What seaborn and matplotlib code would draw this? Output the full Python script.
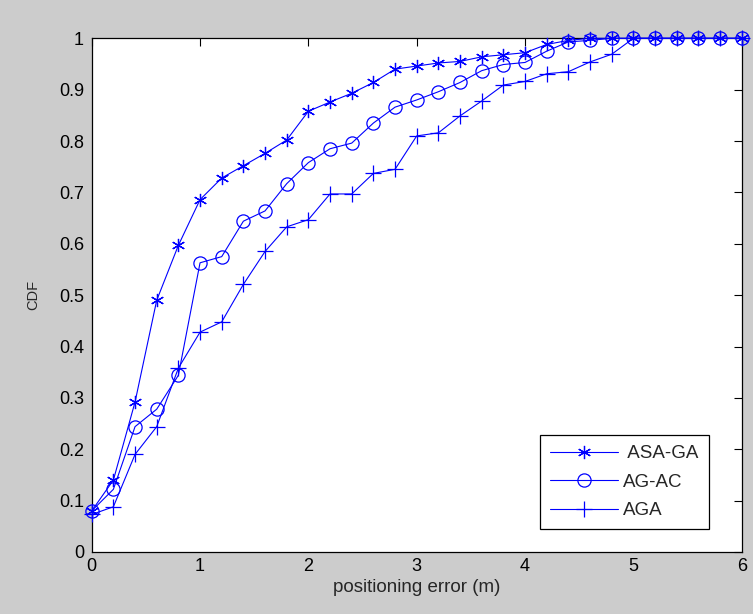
import matplotlib
matplotlib.use("Agg")
import matplotlib.pyplot as plt
import seaborn as sns
import pandas as pd

x_values = [0.0, 0.2, 0.4, 0.6, 0.8, 1.0, 1.2, 1.4, 1.6, 1.8, 2.0, 2.2, 2.4, 2.6, 2.8,
            3.0, 3.2, 3.4, 3.6, 3.8, 4.0, 4.2, 4.4, 4.6, 4.8, 5.0, 5.2, 5.4, 5.6, 5.8, 6.0]
asa_ga = [0.080, 0.140, 0.292, 0.490, 0.597, 0.686, 0.728, 0.752, 0.776, 0.802, 0.858,
          0.876, 0.893, 0.914, 0.940, 0.946, 0.952, 0.955, 0.964, 0.968, 0.972, 0.988,
          0.996, 1.0, 1.0, 1.0, 1.0, 1.0, 1.0, 1.0, 1.0]
ag_ac = [0.080, 0.122, 0.244, 0.278, 0.344, 0.563, 0.575, 0.644, 0.664, 0.717, 0.758,
         0.785, 0.796, 0.835, 0.866, 0.880, 0.896, 0.914, 0.937, 0.949, 0.953, 0.975,
         0.993, 0.996, 1.0, 1.0, 1.0, 1.0, 1.0, 1.0, 1.0]
aga = [0.073, 0.088, 0.190, 0.244, 0.358, 0.428, 0.448, 0.521, 0.585, 0.633, 0.647,
       0.697, 0.697, 0.737, 0.745, 0.810, 0.816, 0.849, 0.878, 0.909, 0.916, 0.931,
       0.935, 0.954, 0.969, 1.0, 1.0, 1.0, 1.0, 1.0, 1.0]
series_names = [" ASA-GA", "AG-AC", "AGA"]
x_ticks = [0, 1, 2, 3, 4, 5, 6]
y_ticks = [0, 0.1, 0.2, 0.3, 0.4, 0.5, 0.6, 0.7, 0.8, 0.9, 1.0]
y_ticklabels = ["0", "0.1", "0.2", "0.3", "0.4", "0.5", "0.6", "0.7", "0.8", "0.9", "1"]

sns.set_style("white")
plt.rcParams["font.family"] = ["Liberation Sans", "DejaVu Sans"]

fig = plt.figure(figsize=(7.53, 6.14), dpi=100, facecolor="#cccccc")
ax = fig.add_axes([0.1218, 0.101, 0.8632, 0.8366])
ax.set_facecolor("white")

styles = [
    dict(marker=(6, 2, 0), markersize=9.5, markerfacecolor="blue", markeredgecolor="blue"),
    dict(marker="o", markersize=9.5, markerfacecolor="none", markeredgecolor="blue"),
    dict(marker="+", markersize=12, markerfacecolor="blue", markeredgecolor="blue"),
]
for name, vals, st in zip(series_names, [asa_ga, ag_ac, aga], styles):
    df = pd.DataFrame({"x": x_values, "y": vals})
    sns.lineplot(data=df, x="x", y="y", ax=ax, color="blue", linewidth=0.8,
                 markeredgewidth=0.9, label=name, clip_on=False, zorder=3, **st)

ax.set_xlim(0, 6)
ax.set_ylim(0, 1)
ax.set_xticks(x_ticks)
ax.set_xticklabels([str(t) for t in x_ticks])
ax.set_yticks(y_ticks)
ax.set_yticklabels(y_ticklabels)
ax.tick_params(direction="in", length=6, width=0.8, top=True, right=True,
               labelsize=13, colors="black")
ax.tick_params(axis="y", pad=5.5)
ax.tick_params(axis="x", pad=4)
for sp in ax.spines.values():
    sp.set_visible(True)
    sp.set_color("black")
    sp.set_linewidth(0.9)
    sp.set_zorder(2)
ax.set_xlabel("positioning error (m)", fontsize=13.5, labelpad=3)
ax.set_ylabel("CDF", fontsize=10.5, labelpad=0)
ax.yaxis.set_label_coords(-0.079, 0.5)

leg = ax.legend(loc="lower right", bbox_to_anchor=(0.9497, 0.044), borderaxespad=0,
                fancybox=False, framealpha=1, edgecolor="black", fontsize=13.5,
                handlelength=3.6, handletextpad=0.3, labelspacing=0.6,
                borderpad=0.55)
leg.get_frame().set_linewidth(0.9)
leg.set_zorder(5)

fig.savefig("out.png", dpi=100, facecolor=fig.get_facecolor())
